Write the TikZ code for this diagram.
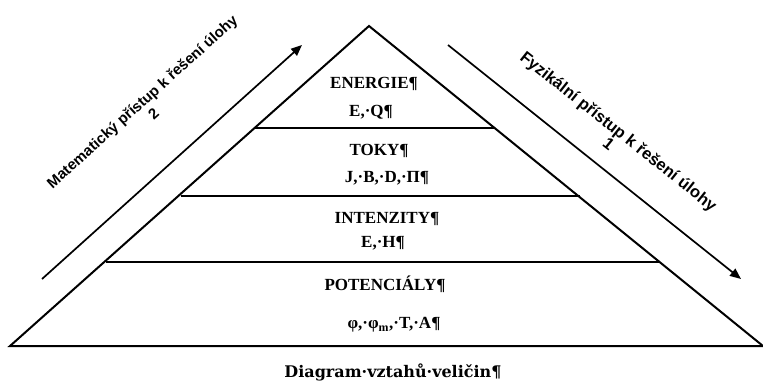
\documentclass[tikz,border=0pt]{standalone}
\usepackage{fontspec}
\setmainfont{Liberation Serif}
\newfontfamily\arrowfont{Liberation Sans}
\newfontfamily\capfont{DejaVu Serif}
\usetikzlibrary{arrows.meta}
\tikzset{
  edge/.style={line width=2pt, line join=miter},
  layer/.style={line width=2pt},
  flow/.style={line width=1.7pt, -{Triangle[length=11pt,width=9pt]}},
  lbl/.style={font=\bfseries\fontsize{17}{19}\selectfont, inner sep=0pt},
  side/.style={font=\arrowfont\bfseries, align=center, inner sep=0pt},
}
\begin{document}
\begin{tikzpicture}[x=1pt,y=-1pt]
\useasboundingbox (0,0) rectangle (763,381);
\coordinate (apex) at (369,26);
\coordinate (bl) at (10,346);
\coordinate (br) at (763,346);
\draw[edge] (bl) -- (apex) -- (br) -- cycle;
\coordinate (e1) at (255,128); \coordinate (e2) at (495,128);
\coordinate (t1) at (181,196); \coordinate (t2) at (580,196);
\coordinate (i1) at (106,262); \coordinate (i2) at (659,262);
\draw[layer] (e1) -- (e2);
\draw[layer] (t1) -- (t2);
\draw[layer] (i1) -- (i2);
\coordinate (la1) at (42,279); \coordinate (la2) at (302,45);
\coordinate (ra1) at (448,45); \coordinate (ra2) at (741,279);
\draw[flow] (la1) -- (la2);
\draw[flow] (ra1) -- (ra2);
\node[side, rotate=42, font=\arrowfont\bfseries\fontsize{15}{17}\selectfont] (lt) at (147.5,107.5) {Matematický přístup k řešení úlohy\\2};
\node[side, rotate=-38.5, font=\arrowfont\bfseries\fontsize{16.5}{16}\selectfont] (rt) at (614,137) {Fyzikální přístup k řešení úlohy\\1};
\node[lbl] (en) at (374,84) {ENERGIE¶};
\node[lbl] (eq) at (371,112) {E,·Q¶};
\node[lbl] (tk) at (379,151) {TOKY¶};
\node[lbl] (jb) at (387,178) {J,·B,·D,·Π¶};
\node[lbl] (in) at (387,219) {INTENZITY¶};
\node[lbl] (eh) at (383,243) {E,·H¶};
\node[lbl] (po) at (385,284) {POTENCIÁLY¶};
\node[lbl] (ph) at (394,325) {φ,·φ\textsubscript{m},·T,·A¶};
\node[font=\capfont\bfseries\fontsize{16}{18}\selectfont, inner sep=0pt] (cap) at (393,372) {Diagram·vztahů·veličin¶};
\end{tikzpicture}
\end{document}
